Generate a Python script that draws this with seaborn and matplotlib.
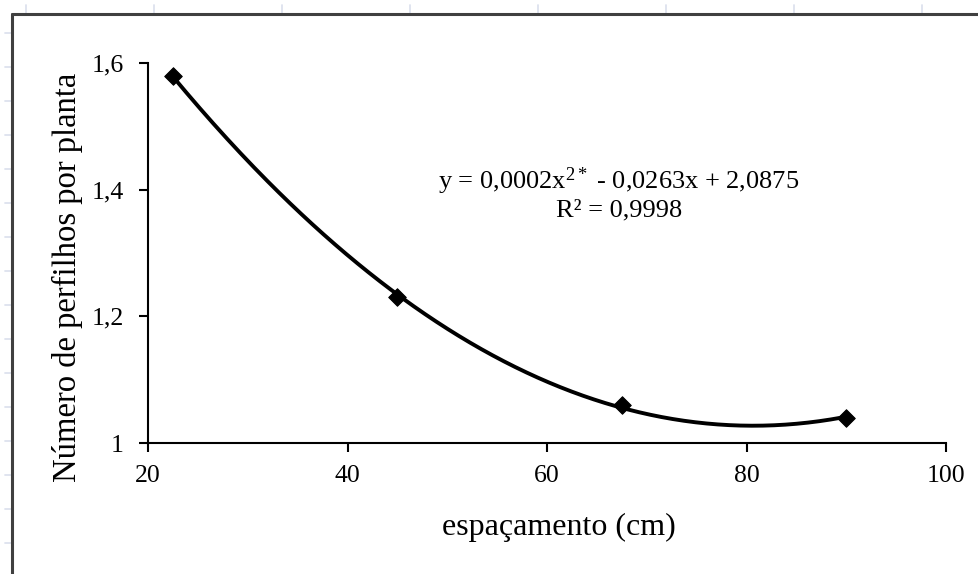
import numpy as np
import pandas as pd
import matplotlib
matplotlib.use("Agg")
import matplotlib.pyplot as plt
from matplotlib.lines import Line2D
import seaborn as sns

# dados
espacamento = [22.5, 45, 67.5, 90]
perfilhos = [1.58, 1.23, 1.06, 1.04]
x_ticks = [20, 40, 60, 80, 100]
y_ticks = [1.0, 1.2, 1.4, 1.6]
y_tick_labels = ["1", "1,2", "1,4", "1,6"]
equacao = "y = 0,0002x$^{2*}$ - 0,0263x + 2,0875"
r2_texto = "R² = 0,9998"

sns.set_theme(style="white")
plt.rcParams["font.family"] = ["Liberation Serif", "DejaVu Serif"]
plt.rcParams["mathtext.fontset"] = "custom"
plt.rcParams["mathtext.rm"] = "Liberation Serif"
plt.rcParams["mathtext.it"] = "Liberation Serif"

W, H = 979, 574
fig = plt.figure(figsize=(W / 100, H / 100), dpi=100)
fig.patch.set_facecolor("white")


def fx(px):
    return px / W


def fy(py):
    return 1 - py / H


# marcas da planilha (cinza) e borda do grafico
for px in range(26, W, 128):
    fig.add_artist(Line2D([fx(px), fx(px)], [fy(5), fy(13)], color="#dde2ee", lw=1.3))
for py in range(33, H, 34):
    fig.add_artist(Line2D([fx(5), fx(11)], [fy(py), fy(py)], color="#dde2ee", lw=1.3))
fig.add_artist(Line2D([fx(12), fx(W)], [fy(14), fy(14)], color="#404040", lw=2.2))
fig.add_artist(Line2D([fx(12), fx(12)], [fy(14), fy(H)], color="#404040", lw=2.2))

ax = fig.add_axes([fx(148), fy(443), fx(946) - fx(148), fy(63) - fy(443)])
ax.set_facecolor("none")

# linha de tendencia polinomial (2a ordem)
coef = np.polyfit(espacamento, perfilhos, 2)
xs = np.linspace(min(espacamento), max(espacamento), 300)
curva = pd.DataFrame({"x": xs, "y": np.polyval(coef, xs)})
sns.lineplot(data=curva, x="x", y="y", color="black", lw=2.8, ax=ax)

df = pd.DataFrame({"espacamento": espacamento, "perfilhos": perfilhos})
sns.scatterplot(data=df, x="espacamento", y="perfilhos", marker="D", s=80,
                color="black", edgecolor="black", ax=ax, zorder=3)

ax.set_xlim(20, 100)
ax.set_ylim(1, 1.6)
ax.set_xticks(x_ticks)
ax.set_xticklabels([str(t) for t in x_ticks])
ax.set_yticks(y_ticks)
ax.set_yticklabels(y_tick_labels)

for s in ["top", "right"]:
    ax.spines[s].set_visible(False)
for s in ["left", "bottom"]:
    ax.spines[s].set_color("black")
    ax.spines[s].set_linewidth(1.5)

ax.tick_params(axis="both", direction="out", length=6.5, width=1.5, color="black",
               labelsize=18.5, labelcolor="black", left=True, bottom=True)
ax.tick_params(axis="x", pad=9)
ax.tick_params(axis="y", pad=11)

ax.set_xlabel("espaçamento (cm)", fontsize=23, color="black", labelpad=16)
ax.xaxis.set_label_coords((559 - 148) / (946 - 148), -0.183)
ax.set_ylabel("Número de perfilhos por planta", fontsize=23.5, color="black", labelpad=10)
ax.yaxis.set_label_coords(-0.082, (443 - 277) / 380)

ax.text(0.59, 0.689, equacao, transform=ax.transAxes, ha="center", va="center",
        fontsize=19, color="black")
ax.text(0.59, 0.613, r2_texto, transform=ax.transAxes, ha="center", va="center",
        fontsize=19, color="black")

fig.savefig("out.png", dpi=100, facecolor="white")
